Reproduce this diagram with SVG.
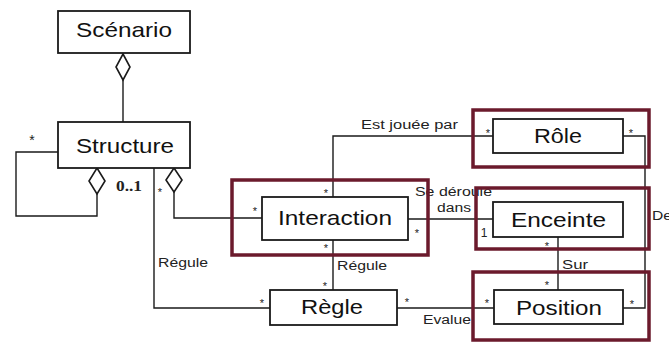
<svg xmlns="http://www.w3.org/2000/svg" width="669" height="343" viewBox="0 0 669 343">
<style>
.ln{fill:none;stroke:#1a1a1a;stroke-width:1.4}
.bx{fill:#fff;stroke:#1a1a1a;stroke-width:1.8}
.dm{fill:#fff;stroke:#1a1a1a;stroke-width:1.6}
.hl{fill:none;stroke:#6b1a2c;stroke-width:3.5}
.t{font-family:"Liberation Sans",Arial,sans-serif;font-size:21px;fill:#111}
.s{font-family:"Liberation Sans",Arial,sans-serif;font-size:12.5px;fill:#222}
.m{font-family:"Liberation Sans",Arial,sans-serif;font-size:11px;fill:#222;text-anchor:middle}
.z{font-family:"Liberation Serif","Times New Roman",serif;font-size:14px;font-weight:bold;fill:#222}
</style>
<rect width="669" height="343" fill="#fff"/>
<g id="connectors">
<line class="ln" x1="123" y1="80" x2="123" y2="122"/>
<polygon class="dm" points="123,54 130,67 123,80 116,67"/>
<polyline class="ln" points="58,152 16,152 16,216 97,216 97,194"/>
<polygon class="dm" points="97,168 105,181 97,194 89,181"/>
<polyline class="ln" points="154,168 154,308 270,308"/>
<polyline class="ln" points="174,192 174,218 262,218"/>
<polygon class="dm" points="174,168 182,180 174,192 166,180"/>
<polyline class="ln" points="333,197 333,136 493,136"/>
<line class="ln" x1="408" y1="219" x2="493" y2="219"/>
<line class="ln" x1="333" y1="240" x2="333" y2="290"/>
<line class="ln" x1="397" y1="308" x2="494" y2="308"/>
<line class="ln" x1="558" y1="237" x2="558" y2="290"/>
<polyline class="ln" points="623,136 645,136 645,308 623,308"/>
<text class="s" x="361" y="129" textLength="97" lengthAdjust="spacingAndGlyphs">Est jouée par</text>
<text class="s" x="415" y="196" textLength="77" lengthAdjust="spacingAndGlyphs">Se déroule</text>
<text class="s" x="437" y="212" textLength="34" lengthAdjust="spacingAndGlyphs">dans</text>
<text class="s" x="158" y="267" textLength="50" lengthAdjust="spacingAndGlyphs">Régule</text>
<text class="s" x="337" y="270" textLength="50" lengthAdjust="spacingAndGlyphs">Régule</text>
<text class="s" x="562" y="269" textLength="26" lengthAdjust="spacingAndGlyphs">Sur</text>
<text class="s" x="423" y="324" textLength="48" lengthAdjust="spacingAndGlyphs">Evalue</text>
<text class="s" x="652" y="220" textLength="20" lengthAdjust="spacingAndGlyphs">De</text>
<text class="z" x="116" y="191" textLength="26" lengthAdjust="spacingAndGlyphs">0..1</text>
<text class="m" x="32" y="145" style="font-size:14px">*</text>
<text class="m" x="160" y="196">*</text>
<text class="m" x="255" y="215">*</text>
<text class="m" x="326" y="197">*</text>
<text class="m" x="326" y="252">*</text>
<text class="m" x="417" y="237">*</text>
<text class="m" x="488" y="137">*</text>
<text class="m" x="631" y="137">*</text>
<text class="m" x="484" y="237" style="font-size:12px">1</text>
<text class="m" x="547" y="250">*</text>
<text class="m" x="547" y="289">*</text>
<text class="m" x="487" y="307">*</text>
<text class="m" x="632" y="308">*</text>
<text class="m" x="325" y="290">*</text>
<text class="m" x="262" y="307">*</text>
<text class="m" x="407" y="306">*</text>
</g>
<g id="scenario">
<rect class="bx" x="58" y="11" width="132" height="42"/>
<text class="t" x="76" y="37" textLength="96" lengthAdjust="spacingAndGlyphs">Scénario</text>
</g>
<g id="structure">
<rect class="bx" x="58" y="122" width="132" height="46"/>
<text class="t" x="76" y="153" textLength="98" lengthAdjust="spacingAndGlyphs">Structure</text>
</g>
<g id="interaction">
<rect class="bx" x="262" y="197" width="146" height="43"/>
<text class="t" x="278" y="225" textLength="114" lengthAdjust="spacingAndGlyphs">Interaction</text>
<rect class="hl" x="232" y="180" width="196" height="75"/>
</g>
<g id="role">
<rect class="bx" x="493" y="119" width="130" height="34"/>
<text class="t" x="534" y="143" textLength="48" lengthAdjust="spacingAndGlyphs">Rôle</text>
<rect class="hl" x="473" y="110" width="176" height="57"/>
</g>
<g id="enceinte">
<rect class="bx" x="493" y="202" width="130" height="35"/>
<text class="t" x="511" y="227" textLength="95" lengthAdjust="spacingAndGlyphs">Enceinte</text>
<rect class="hl" x="476" y="188" width="173" height="61"/>
</g>
<g id="position">
<rect class="bx" x="494" y="290" width="129" height="34"/>
<text class="t" x="516" y="315" textLength="86" lengthAdjust="spacingAndGlyphs">Position</text>
<rect class="hl" x="473" y="272" width="176" height="68"/>
</g>
<g id="regle">
<rect class="bx" x="270" y="290" width="127" height="35"/>
<text class="t" x="301" y="314" textLength="62" lengthAdjust="spacingAndGlyphs">Règle</text>
</g>
</svg>
